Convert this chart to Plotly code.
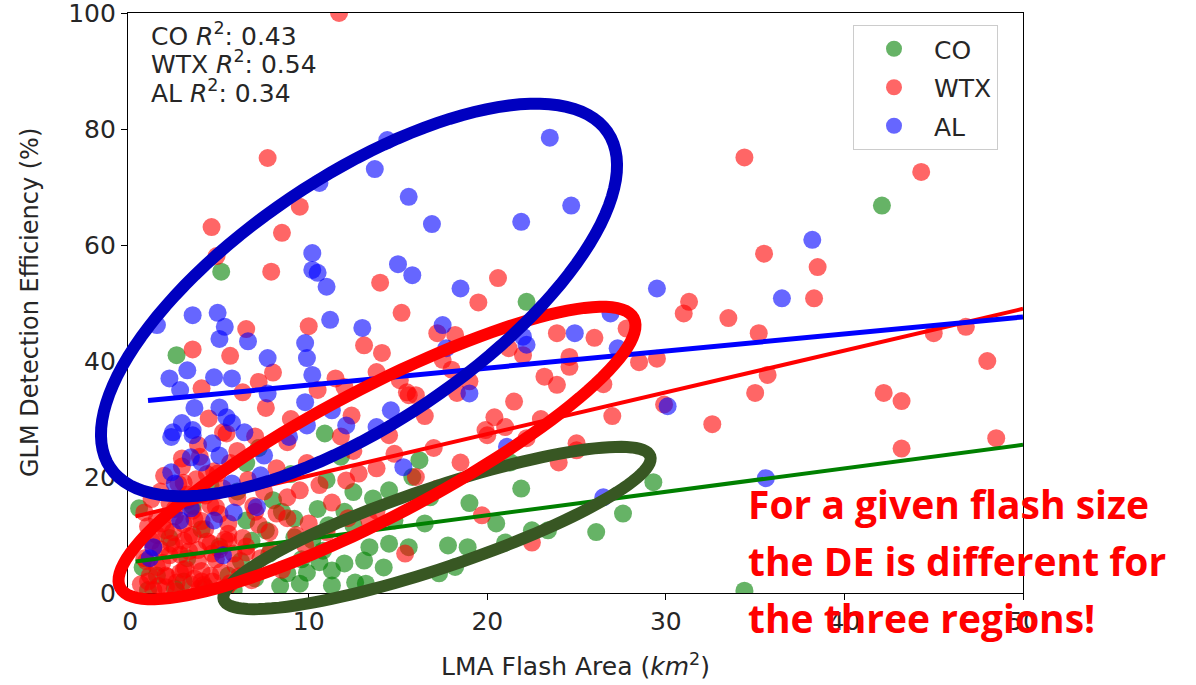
import numpy as np
import plotly.graph_objects as go

# ---------------- data ----------------
co_x = [5.1, 22.2, 2.6, 42.1, 34.4, 21.3, 16.2, 15.8, 16.8, 21.9, 29.3, 27.6, 26.1, 22.5, 23.4,
        21.0, 17.8, 18.9, 15.6, 17.3, 12.5, 14.5, 12.5, 11.1, 10.2, 13.4, 14.5, 12.0, 13.1, 14.2,
        10.6, 11.3, 9.9, 12.6, 11.3, 9.5, 13.2, 6.5, 0.5, 7.6, 9.2, 8.8, 0.7, 10.9,
        3.0, 4.2, 5.5, 6.2, 7.0, 7.8, 8.4, 6.8, 5.0, 4.0, 3.2, 2.2, 1.5, 9.6, 10.8, 8.0, 6.0,
        10.5, 9.0, 7.2, 11.8, 13.6, 14.8, 16.5, 19.0, 18.2, 20.5, 1.0, 2.5, 5.8, 6.5, 3.5, 4.5,
        8.5, 11.0, 12.0, 9.2]
co_y = [55.4, 50.2, 41.0, 66.8, 0.4, 22.5, 22.9, 20.0, 16.5, 18.0, 19.1, 13.7, 10.5, 10.8, 10.8,
        8.7, 8.2, 7.9, 7.9, 3.4, 17.4, 17.7, 11.7, 11.7, 9.1, 7.9, 8.5, 5.1, 5.6, 4.4,
        5.3, 3.9, 3.5, 1.8, 1.3, 1.6, 1.6, 22.4, 14.6, 10.8, 9.6, 3.4, 4.4, 27.5,
        2.0, 1.0, 3.0, 5.5, 2.5, 6.8, 1.2, 9.0, 8.0, 11.0, 6.0, 9.5, 3.0, 5.8, 7.3, 16.0, 17.5,
        14.5, 20.5, 25.0, 23.5, 16.3, 12.5, 12.0, 15.5, 4.5, 12.0, 0.5, 0.8, 0.5, 12.5, 15.0, 18.5,
        14.0, 19.5, 14.0, 12.8]

wtx_x = [11.7, 7.7, 4.56, 4.84, 8.5, 9.5, 7.9, 14.0, 20.6, 19.5, 15.2, 31.3, 31.0, 33.5, 34.4,
         17.2, 18.2, 21.2, 23.9, 27.8, 24.6, 24.6, 28.5, 29.5, 23.2, 23.9, 15.6, 17.5, 29.9, 32.6,
         20.4, 19.9, 21.0, 22.2, 25.0, 44.3, 35.5, 38.5, 38.3, 35.2, 45.0, 46.8, 35.7, 35.0, 48.0,
         42.2, 43.2, 43.2, 48.5, 20.0, 25.0, 17.2, 19.7, 22.5, 15.4, 10.6, 9.5, 12.1, 12.8, 13.8,
         11.3, 13.8, 13.4, 12.2, 9.8, 13.1, 14.1, 13.8, 15.1, 15.5, 16.0, 18.3, 12.4, 14.5, 5.6,
         4.0, 7.2, 6.3, 4.4, 7.6, 5.2, 5.4, 2.9, 5.6, 8.8, 8.2, 9.9, 8.2, 8.8, 0.8,
         1.0, 1.5, 2.0, 2.2, 2.8, 3.0, 3.4, 3.8, 4.2, 4.5, 5.0, 5.4, 5.9, 6.3, 6.8, 7.3, 1.2, 1.8,
         2.5, 3.2, 3.6, 4.8, 5.5, 6.0, 7.0, 7.8, 8.5, 1.3, 2.6, 3.9, 4.6, 2.4, 3.3, 4.0, 1.7, 0.9,
         5.2, 6.6, 4.3, 3.0, 7.5, 8.8, 9.3, 10.0, 11.0, 6.0, 7.0, 3.8, 9.0, 10.5, 11.8, 12.5, 11.5,
         8.0, 6.5, 10.0, 3.5, 12.0, 16.5, 17.0, 18.5, 16.0, 14.8, 19.0, 21.5, 23.0, 26.5, 27.0,
         24.0, 18.0, 22.0, 26.0, 2.0, 3.0, 4.0, 1.5, 2.5, 3.5, 4.5, 5.5, 6.5]
wtx_y = [100.0, 75.0, 63.1, 58.1, 62.1, 66.6, 55.4, 53.5, 54.3, 50.1, 48.3, 50.2, 48.2, 47.4, 75.1,
         44.8, 44.5, 42.2, 44.8, 45.6, 40.7, 39.0, 39.8, 40.4, 37.3, 35.9, 34.1, 40.2, 32.5, 29.1,
         30.3, 28.1, 28.6, 26.7, 25.8, 72.6, 58.5, 56.2, 50.8, 44.8, 44.8, 45.9, 37.6, 34.5, 40.0,
         34.5, 33.1, 24.9, 26.7, 27.2, 24.6, 18.0, 13.4, 8.7, 6.8, 18.6, 17.7, 19.4, 20.6, 21.5,
         15.6, 14.2, 12.5, 12.9, 8.2, 42.7, 41.4, 38.1, 36.7, 34.6, 34.1, 34.5, 30.6, 27.2, 40.9,
         35.3, 36.4, 34.6, 30.1, 31.9, 27.7, 27.5, 23.2, 22.4, 26.0, 21.5, 22.4, 13.7, 12.9, 13.9,
         2.0, 4.5, 1.0, 6.5, 3.5, 9.0, 1.5, 5.5, 11.0, 3.0, 7.5, 1.0, 4.8, 9.5, 2.2, 6.0, 9.0, 12.0,
         14.5, 16.0, 12.8, 14.8, 12.0, 16.5, 14.0, 10.5, 4.0, 0.5, 0.3, 0.8, 6.8, 10.5, 7.2, 3.8, 7.5, 5.5,
         18.0, 19.5, 20.5, 19.0, 17.5, 16.5, 10.0, 12.0, 10.5, 24.5, 27.0, 25.5, 30.0, 35.0, 27.0, 24.5, 37.0,
         38.0, 45.5, 46.0, 42.0, 35.5, 30.5, 25.0, 22.5, 20.0, 24.0, 36.5, 33.0, 30.0, 36.0, 30.5,
         22.5, 38.5, 41.0, 44.0, 3.0, 4.0, 2.0, 10.0, 8.0, 10.0, 8.5, 9.0, 7.0]
# the dense WTX cluster of small flashes in the lower-left corner
wtx_cluster_x = [0.6, 1.1, 1.6, 2.1, 2.6, 3.1, 3.6, 4.1, 4.6, 5.1, 5.6, 6.1,
                 0.8, 1.3, 1.8, 2.3, 2.8, 3.3, 3.8, 4.3, 4.8, 5.3, 5.8,
                 1.0, 1.5, 2.0, 2.5, 3.0, 3.5, 4.0, 4.5, 5.0, 5.5,
                 1.2, 1.7, 2.2, 2.7, 3.2, 3.7, 4.2, 4.7,
                 1.9, 2.9, 3.9, 4.9, 6.5, 7.2, 7.9, 6.9]
wtx_cluster_y = [1.5, 3.0, 1.2, 2.8, 1.8, 4.2, 2.5, 1.4, 2.0, 3.6, 1.7, 2.9,
                 6.0, 7.8, 5.2, 8.5, 6.6, 9.8, 7.4, 8.9, 5.8, 9.2, 6.8,
                 11.5, 12.8, 10.8, 13.2, 11.9, 14.2, 12.4, 15.1, 13.6, 10.2,
                 16.2, 17.5, 15.6, 18.8, 17.0, 19.6, 16.8, 21.0,
                 20.2, 21.8, 23.5, 20.6, 8.0, 11.8, 7.5, 15.0]

al_x = [14.4, 13.7, 10.6, 15.6, 10.2, 10.2, 10.5, 11.0, 15.0, 15.8, 23.5, 16.9, 21.9, 24.7, 18.5,
        29.5, 17.5, 17.7, 22.0, 22.2, 24.9, 26.9, 27.3, 19.0, 38.2, 36.5, 30.1, 21.1, 15.3,
        26.5, 35.6, 11.2, 13.0, 9.8, 9.9, 10.2, 9.8, 11.3, 14.6, 12.1, 9.9, 13.8, 1.5, 3.5, 4.9,
        5.3, 5.0, 6.6, 7.7, 3.2, 2.2, 2.8, 4.7, 5.7, 7.7, 3.6, 5.0, 5.4, 5.7, 2.9, 2.4, 3.5, 6.4,
        2.3, 3.5, 3.4, 4.0, 4.6, 5.0, 2.3, 2.5, 7.5, 8.9, 7.3, 5.7, 7.1, 5.8, 4.7, 2.8, 3.4, 5.2,
        1.3, 1.1]
al_y = [78.1, 73.1, 70.7, 68.3, 58.6, 55.7, 55.2, 52.8, 56.7, 54.8, 78.5, 63.6, 64.0, 66.8, 52.5,
        52.5, 46.2, 42.2, 44.2, 42.8, 44.8, 48.2, 42.2, 34.4, 60.9, 50.8, 32.2, 25.2, 21.7,
        16.5, 19.8, 47.1, 45.7, 43.1, 40.5, 37.6, 32.9, 31.5, 31.5, 28.9, 28.9, 28.6, 46.2, 47.9, 48.3,
        45.9, 43.8, 43.4, 40.5, 38.4, 37.0, 35.0, 37.2, 37.0, 34.4, 31.9, 32.0, 30.3, 29.3, 29.3, 27.7, 28.1, 27.7,
        26.9, 27.2, 23.4, 22.5, 25.8, 23.7, 20.8, 18.9, 23.7, 26.9, 20.3, 18.9, 14.8, 13.9, 12.5, 12.5, 14.6, 6.5,
        7.9, 6.0]

# linear fits (slope, intercept) and their x extents
fit_co = (0.405, 5.3)
fit_wtx = (0.72, 13.0)
fit_al = (0.294, 32.9)
fit_xrange = {"CO": (0.3, 50.0), "WTX": (0.3, 50.0), "AL": (1.0, 50.0)}

r2_lines = ["CO <i>R</i><sup>2</sup>: 0.43", "WTX <i>R</i><sup>2</sup>: 0.54", "AL <i>R</i><sup>2</sup>: 0.34"]
note_lines = ["For a given flash size", "the DE is different for", "the three regions!"]
x_ticks = [0, 10, 20, 30, 40, 50]
y_ticks = [0, 20, 40, 60, 80, 100]
x_title = "LMA Flash Area (<i>km</i><sup>2</sup>)"
y_title = "GLM Detection Efficiency (%)"

# ---------------- layout geometry ----------------
W, H = 1196, 685
ML, MR, MT, MB = 128, 173, 13, 92
PW, PH = W - ML - MR, H - MT - MB


def pp(px, py):
    return (px - ML) / PW, (H - MB - py) / PH


def ellipse_path(cx, cy, a, b, ang_deg, n=120):
    th = np.deg2rad(ang_deg)
    t = np.linspace(0, 2 * np.pi, n, endpoint=False)
    X = cx + a * np.cos(t) * np.cos(th) - b * np.sin(t) * np.sin(th)
    Y = cy - (a * np.cos(t) * np.sin(th) + b * np.sin(t) * np.cos(th))
    pts = [pp(x, y) for x, y in zip(X, Y)]
    return "M " + " L ".join(f"{u:.5f},{v:.5f}" for u, v in pts) + " Z"


fig = go.Figure()
mk = dict(size=18, opacity=0.6, line=dict(width=0))
for name, xs, ys, col in [("CO", co_x, co_y, "#008000"),
                          ("WTX", wtx_x + wtx_cluster_x, wtx_y + wtx_cluster_y, "#ff0000"),
                          ("AL", al_x, al_y, "#0000ff")]:
    fig.add_trace(go.Scatter(x=xs, y=ys, mode="markers", name=name, legendgroup=name,
                             marker=dict(color=col, **mk)))

for name, fit, col, w in [("CO", fit_co, "#008000", 4), ("WTX", fit_wtx, "#ff0000", 4),
                          ("AL", fit_al, "#0000ff", 5)]:
    x0, x1 = fit_xrange[name]
    xs = [x0, x1]
    ys = [fit[0] * v + fit[1] for v in xs]
    fig.add_trace(go.Scatter(x=xs, y=ys, mode="lines", showlegend=False,
                             line=dict(color=col, width=w), hoverinfo="skip"))

shapes = []
for cx, cy, a, b, ang, col in [(437, 528, 225, 40, 18.6, "#385723"),
                               (377, 453, 290, 64, 27.7, "#ff0000"),
                               (359, 300, 300, 123, 34.0, "#0000c0")]:
    shapes.append(dict(type="path", xref="paper", yref="paper", path=ellipse_path(cx, cy, a, b, ang),
                       line=dict(color=col, width=12), fillcolor="rgba(0,0,0,0)", layer="above"))

annots = []
for i, t in enumerate(r2_lines):
    x, y = pp(149, 34 + i * 28.5)
    annots.append(dict(text=t, x=x, y=y, xref="paper", yref="paper", xanchor="left", yanchor="middle",
                       showarrow=False, font=dict(family="DejaVu Sans", size=25, color="#262626")))
yx, yy = pp(30, 303)
annots.append(dict(text=y_title, x=yx, y=yy, xref="paper", yref="paper", xanchor="center",
                   yanchor="middle", textangle=-90, showarrow=False,
                   font=dict(family="DejaVu Sans", size=24, color="#262626")))
for i, t in enumerate(note_lines):
    x, y = pp(746, 503 + i * 57)
    annots.append(dict(text=f"<b>{t}</b>", x=x, y=y, xref="paper", yref="paper", xanchor="left",
                       yanchor="middle", showarrow=False,
                       font=dict(family="Open Sans", size=39, color="#ff0000")))

axis_common = dict(showline=True, mirror=True, linecolor="#000000", linewidth=1.3, showgrid=False,
                   zeroline=False, ticks="outside", ticklen=6, tickwidth=1.2, tickcolor="#000000",
                   ticklabeloverflow="allow",
                   tickfont=dict(family="DejaVu Sans", size=25, color="#262626"))

fig.update_layout(
    width=W, height=H, margin=dict(l=ML, r=MR, t=MT, b=MB, autoexpand=False),
    paper_bgcolor="white", plot_bgcolor="white",
    xaxis=dict(range=[-0.12, 50.0], tickvals=x_ticks, **axis_common,
               title=dict(text=x_title, standoff=22,
                          font=dict(family="DejaVu Sans", size=25, color="#262626"))),
    yaxis=dict(range=[0, 100], tickvals=y_ticks, **axis_common),
    legend=dict(x=pp(853, 0)[0], y=pp(0, 25)[1], xanchor="left", yanchor="top",
                bgcolor="rgba(255,255,255,0.8)", bordercolor="#cccccc", borderwidth=1,
                font=dict(family="DejaVu Sans", size=25, color="#262626"),
                tracegroupgap=3, traceorder="grouped", itemwidth=70),
    shapes=shapes, annotations=annots, showlegend=True,
)

fig.write_html("out.html")
